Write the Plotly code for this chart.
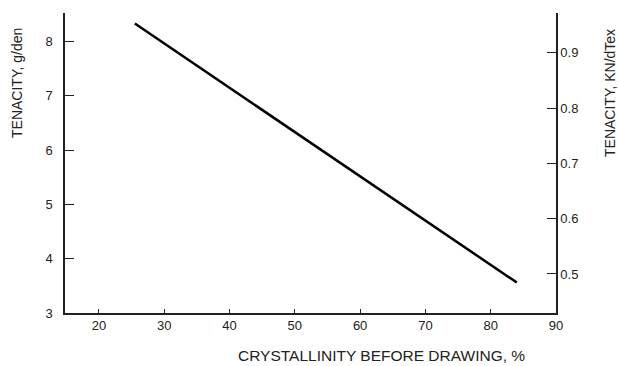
import plotly.graph_objects as go

# Data
crystallinity = [25.5, 84.0]        # % before drawing
tenacity_gden = [8.33, 3.56]        # g/den

x_ticks = [20, 30, 40, 50, 60, 70, 80, 90]
y_ticks = [3, 4, 5, 6, 7, 8]
y2_ticks = [0.5, 0.6, 0.7, 0.8, 0.9]

font_family = "Liberation Sans, Arial, sans-serif"

fig = go.Figure()
fig.add_trace(go.Scatter(
    x=crystallinity, y=tenacity_gden, mode="lines",
    line=dict(color="black", width=2.5), showlegend=False, hoverinfo="skip"))
# empty trace to activate the secondary axis
fig.add_trace(go.Scatter(x=[None], y=[None], yaxis="y2", showlegend=False,
                         hoverinfo="skip"))

fig.update_layout(
    width=619, height=366,
    margin=dict(l=65, r=63, t=13, b=53),
    paper_bgcolor="white", plot_bgcolor="white",
    font=dict(family=font_family, size=13, color="#222"),
    xaxis=dict(range=[14.8, 90], tickvals=x_ticks, ticks="inside", ticklen=4,
               tickwidth=1, tickcolor="#222", showline=True, linecolor="#222",
               linewidth=1.5, showgrid=False, zeroline=False,
               tickfont=dict(size=13)),
    yaxis=dict(range=[3, 8.525], tickvals=y_ticks, ticks="inside", ticklen=9,
               tickwidth=1, tickcolor="#222", showline=True, linecolor="#222",
               linewidth=1.5, showgrid=False, zeroline=False,
               ticklabelstandoff=8, tickfont=dict(size=13)),
    yaxis2=dict(range=[0.4294, 0.972], tickvals=y2_ticks,
                overlaying="y", side="right", ticks="inside", ticklen=9,
                tickwidth=1, tickcolor="#222", showline=True, linecolor="#222",
                linewidth=1.5, showgrid=False, zeroline=False,
                tickfont=dict(size=13)),
    annotations=[
        dict(text="TENACITY, g/den", xref="paper", yref="paper", x=0, y=1,
             xshift=-48, yshift=-70, textangle=-90, showarrow=False,
             font=dict(size=14, color="#222"), xanchor="center", yanchor="middle"),
        dict(text="TENACITY, KN/dTex", xref="paper", yref="paper", x=1, y=1,
             xshift=54, yshift=-80, textangle=-90, showarrow=False,
             font=dict(size=14, color="#222"), xanchor="center", yanchor="middle"),
        dict(text="CRYSTALLINITY BEFORE DRAWING, %", xref="paper", yref="paper",
             x=1, y=0, xshift=-29, yshift=-42, showarrow=False,
             font=dict(size=15.5, color="#222"), xanchor="right", yanchor="middle"),
    ],
)

fig.write_html("out.html", config={"displayModeBar": False},
               post_script="document.body.style.margin='0';")
